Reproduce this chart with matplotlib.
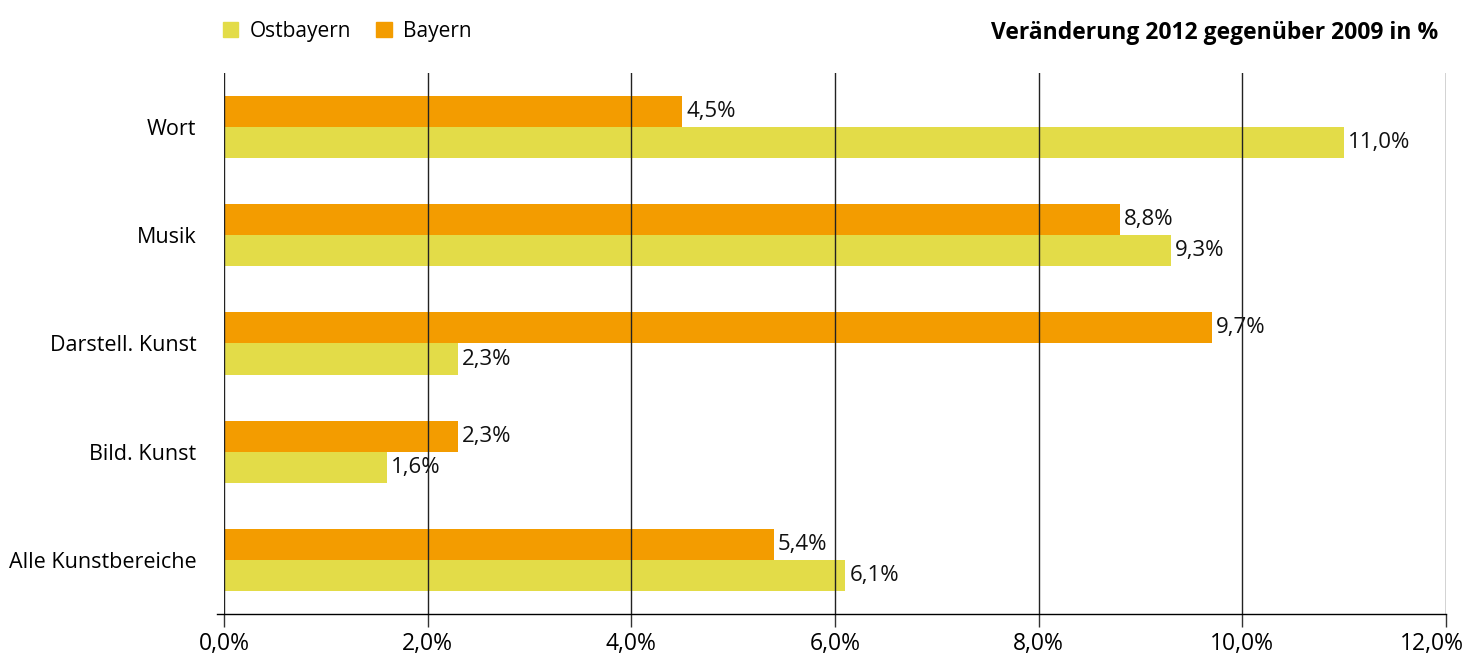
import numpy as np
import matplotlib.pyplot as plt
import matplotlib.transforms as mtransforms
from matplotlib.patches import Patch

plt.rcParams['font.family'] = ['Open Sans', 'DejaVu Sans']

categories = ["Wort", "Musik", "Darstell. Kunst", "Bild. Kunst", "Alle Kunstbereiche"]
ostbayern = [11.0, 9.3, 2.3, 1.6, 6.1]
bayern = [4.5, 8.8, 9.7, 2.3, 5.4]
tick_vals = [0, 2, 4, 6, 8, 10, 12]

col_ost = "#E3DC48"
col_bay = "#F39C00"

fig = plt.figure(figsize=(14.65, 6.59), dpi=100)
ax = fig.add_axes([224/1465, 1-614/659, (1446-224)/1465, (614-73)/659])

y = np.arange(len(categories))
h = 0.287
ax.barh(y - h/2, bayern, height=h, color=col_bay, zorder=1)
ax.barh(y + h/2, ostbayern, height=h, color=col_ost, zorder=1)

def fmt(v):
    return ("%.1f%%" % v).replace(".", ",")

for yi, b, o in zip(y, bayern, ostbayern):
    ax.text(b + 0.04, yi - h/2, fmt(b), va="center", ha="left", fontsize=16, color="#111111")
    ax.text(o + 0.04, yi + h/2, fmt(o), va="center", ha="left", fontsize=16, color="#111111")

ax.set_xlim(0, 12)
ax.set_ylim(len(categories) - 0.5, -0.5)
ax.set_yticks(y)
ax.set_yticklabels(categories, fontsize=15.5)
ax.tick_params(axis="y", length=0, pad=20)

ax.set_xticks(tick_vals)
ax.set_xticklabels([fmt(t) for t in tick_vals], fontsize=16.5)
ax.tick_params(axis="x", length=9, width=1, color="#333333", pad=4)
# last label pulled left so it stays inside the figure
last = ax.get_xticklabels()[-1]
last.set_transform(last.get_transform() + mtransforms.ScaledTranslation(-14/100, 0, fig.dpi_scale_trans))

# vertical gridlines drawn over the bars
for t in tick_vals:
    ax.axvline(t, color="#222222", lw=1, zorder=3)

for s in ["top", "right", "left", "bottom"]:
    ax.spines[s].set_visible(False)
ax.plot([-0.07, 12], [len(categories) - 0.5] * 2, color="black", lw=1, clip_on=False, zorder=4)

handles = [Patch(color=col_ost, label="Ostbayern"), Patch(color=col_bay, label="Bayern")]
fig.legend(handles=handles, loc="center left", bbox_to_anchor=(204/1465, 1-31/659), ncol=2,
           frameon=False, fontsize=15, handlelength=0.75, handleheight=0.75,
           handletextpad=0.55, columnspacing=1.2)

fig.text(1438/1465, 1-33/659, "Veränderung 2012 gegenüber 2009 in %", ha="right", va="center",
         fontsize=16.5, fontweight="bold")

fig.savefig("out.png", dpi=100)
